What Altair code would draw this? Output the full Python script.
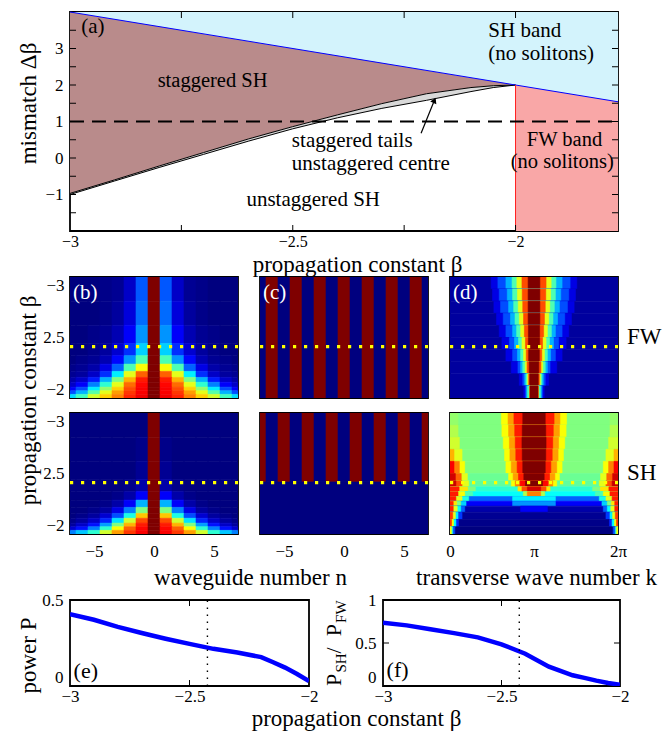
import math
import altair as alt
import pandas as pd

FONT = "Liberation Serif"
PI = math.pi
JET = ["#00007f", "#0000ff", "#00ffff", "#ffff00", "#ff0000", "#7f0000"]
JET_STOPS = [0, 0.125, 0.375, 0.625, 0.875, 1.0]

# ---------------- (a) existence diagram ----------------
a_beta = [-3.0, -2.9, -2.8, -2.7, -2.6, -2.5, -2.4, -2.3, -2.2, -2.1, -2.05, -2.0]
a_sh_edge = [4.0, 3.8, 3.6, 3.4, 3.2, 3.0, 2.8, 2.6, 2.4, 2.2, 2.1, 2.0]
a_tails_top = [-0.97, -0.6, -0.22, 0.15, 0.52, 0.86, 1.18, 1.49, 1.76, 1.93, 1.98, 2.0]
a_tails_bottom = [-1.0, -0.63, -0.26, 0.1, 0.46, 0.8, 1.1, 1.36, 1.58, 1.82, 1.93, 2.0]
band_beta = [-3.0, -2.0, -1.77]
band_edge = [4.0, 2.0, 1.54]
fw_beta = [-2.0, -1.77]
fw_edge = [2.0, 1.54]
arrow_beta = [-2.212, -2.182]
arrow_db = [0.68, 1.58]
a_tick_beta = [-2.75, -2.5, -2.25, -2.0]
a_tick_db = [-1.5, -1.0, -0.5, 0.0, 0.5, 1.0, 1.5, 2.0, 2.5, 3.0, 3.5]

# ---------------- (b) amplitude profiles |n| = 0..7 ----------------
prof_edges = [-3.0, -2.8, -2.6, -2.45, -2.35, -2.28, -2.22, -2.17, -2.13, -2.09, -2.06, -2.03, -2.0]
prof_fw = [
    [1, 0.21, 0.07, 0.02, 0.01, 0, 0, 0],
    [1, 0.23, 0.09, 0.03, 0.01, 0, 0, 0],
    [1, 0.27, 0.12, 0.05, 0.02, 0.01, 0, 0],
    [1, 0.33, 0.17, 0.08, 0.03, 0.01, 0, 0],
    [1, 0.45, 0.27, 0.13, 0.05, 0.02, 0.01, 0],
    [1, 0.62, 0.45, 0.22, 0.1, 0.04, 0.02, 0.01],
    [1, 0.78, 0.6, 0.36, 0.17, 0.07, 0.03, 0.02],
    [1, 0.85, 0.7, 0.5, 0.3, 0.15, 0.07, 0.04],
    [1, 0.87, 0.77, 0.6, 0.42, 0.25, 0.12, 0.07],
    [1, 0.88, 0.8, 0.67, 0.52, 0.36, 0.2, 0.12],
    [1, 0.88, 0.82, 0.72, 0.6, 0.46, 0.3, 0.2],
    [1, 0.89, 0.84, 0.75, 0.67, 0.58, 0.44, 0.34],
]
prof_sh = [
    [1, 0, 0, 0, 0, 0, 0, 0],
    [1, 0.01, 0, 0, 0, 0, 0, 0],
    [1, 0.02, 0, 0, 0, 0, 0, 0],
    [1, 0.04, 0.01, 0, 0, 0, 0, 0],
    [1, 0.12, 0.04, 0.01, 0, 0, 0, 0],
    [1, 0.3, 0.12, 0.04, 0.01, 0, 0, 0],
    [1, 0.5, 0.25, 0.1, 0.03, 0.01, 0, 0],
    [1, 0.68, 0.4, 0.2, 0.08, 0.03, 0.01, 0],
    [1, 0.8, 0.58, 0.35, 0.16, 0.07, 0.03, 0.01],
    [1, 0.85, 0.7, 0.5, 0.28, 0.14, 0.07, 0.03],
    [1, 0.87, 0.78, 0.62, 0.42, 0.25, 0.14, 0.08],
    [1, 0.88, 0.82, 0.72, 0.58, 0.42, 0.32, 0.25],
]

# ---------------- (c) staggering sign, n = -7..7 ----------------
sign_fw = [0, 1, 0, 1, 0, 1, 0, 1, 0, 1, 0, 1, 0, 1, 0]
sign_sh_upper = [1, 0, 1, 0, 1, 0, 1, 0, 1, 0, 1, 0, 1, 0, 1]
sign_sh_cut = -2.43

# ---------------- (d) spectra ----------------
spec_fw_edges = [-3.0, -2.9, -2.8, -2.7, -2.6, -2.5, -2.4, -2.3, -2.2, -2.1, -2.0]
spec_fw_levels = [0.1, 0.2, 0.3, 0.45, 0.6, 0.8, 1.0]
spec_fw_halfwidth = [
    [1.6, 1.35, 1.05, 0.82, 0.64, 0.45, 0.22],
    [1.55, 1.3, 1.0, 0.8, 0.62, 0.44, 0.22],
    [1.5, 1.25, 0.95, 0.76, 0.59, 0.42, 0.22],
    [1.4, 1.15, 0.88, 0.71, 0.55, 0.39, 0.22],
    [1.3, 1.05, 0.8, 0.65, 0.5, 0.36, 0.21],
    [1.2, 0.92, 0.73, 0.58, 0.45, 0.32, 0.21],
    [1.05, 0.8, 0.62, 0.5, 0.39, 0.29, 0.2],
    [0.85, 0.6, 0.5, 0.42, 0.33, 0.26, 0.18],
    [0.55, 0.42, 0.35, 0.3, 0.24, 0.2, 0.16],
    [0.38, 0.32, 0.28, 0.24, 0.17, 0.16, 0.15],
]
spec_sh_edges = [-3.0, -2.9, -2.8, -2.7, -2.6, -2.5, -2.44, -2.39, -2.35, -2.31,
                 -2.27, -2.23, -2.18, -2.12, -2.06, -2.0]
spec_sh_bg = [0.5, 0.5, 0.5, 0.5, 0.5, 0.48, 0.47, 0.42, 0.38, 0.22, 0.12, 0.04, 0.02, 0.01, 0.0]
spec_sh_center = [
    [(1.22, 0.62), (0.97, 0.72), (0.75, 0.85), (0.42, 1.0)],
    [(1.2, 0.62), (0.95, 0.72), (0.72, 0.85), (0.44, 1.0)],
    [(1.15, 0.62), (0.92, 0.72), (0.7, 0.85), (0.45, 1.0)],
    [(1.1, 0.62), (0.9, 0.72), (0.68, 0.85), (0.44, 1.0)],
    [(1.05, 0.62), (0.85, 0.72), (0.63, 0.85), (0.42, 1.0)],
    [(0.95, 0.62), (0.78, 0.72), (0.58, 0.85), (0.38, 1.0)],
    [(0.85, 0.62), (0.7, 0.75), (0.52, 0.87), (0.32, 1.0)],
    [(0.6, 0.65), (0.45, 0.8), (0.25, 0.92)],
    [(0.4, 0.55), (0.25, 0.75)],
    [(0.8, 0.36)],
    [(0.8, 0.27)],
    [(0.5, 0.12)],
    [],
    [],
    [],
]
spec_sh_edge = [
    [(0.3, 0.52)],
    [(0.3, 0.55)],
    [(0.35, 0.58)],
    [(0.45, 0.6), (0.15, 0.7)],
    [(0.55, 0.62), (0.35, 0.75), (0.15, 0.88)],
    [(0.65, 0.6), (0.42, 0.78), (0.2, 0.92)],
    [(0.7, 0.6), (0.45, 0.8), (0.22, 0.93)],
    [(0.95, 0.5), (0.66, 0.65), (0.34, 0.85)],
    [(0.85, 0.45), (0.55, 0.62), (0.3, 0.85)],
    [(0.7, 0.4), (0.45, 0.6), (0.22, 0.85)],
    [(0.6, 0.33), (0.4, 0.5), (0.25, 0.65), (0.12, 0.85)],
    [(0.55, 0.22), (0.4, 0.38), (0.27, 0.6), (0.12, 0.85)],
    [(0.45, 0.18), (0.3, 0.36), (0.2, 0.6), (0.1, 0.82)],
    [(0.32, 0.16), (0.22, 0.38), (0.13, 0.62), (0.06, 0.82)],
    [(0.18, 0.2), (0.1, 0.42), (0.05, 0.62)],
]
DOT_BETA = -2.425

# ---------------- (e), (f) ----------------
ef_beta = [-3.0, -2.9, -2.8, -2.7, -2.6, -2.5, -2.4, -2.3, -2.2, -2.15, -2.1, -2.05, -2.0]
power = [0.418, 0.385, 0.344, 0.308, 0.275, 0.245, 0.216, 0.195, 0.168, 0.138, 0.107, 0.07, 0.028]
ratio = [0.737, 0.705, 0.66, 0.615, 0.565, 0.485, 0.375, 0.225, 0.125, 0.095, 0.062, 0.035, 0.015]
ef_tick_beta = [-2.5]

YT_X = -42  # common position of the left axis titles
NOAX = alt.Axis(labels=False, title=None, ticks=False, domain=False, grid=False)
ZERO_BASE = {"condition": {"test": "datum.value == 0", "value": "bottom"}, "value": "middle"}


def jet_scale():
    return alt.Scale(domain=JET_STOPS, range=JET, interpolate="rgb", clamp=True)


def txt(df, size=20, color="black", align="left", baseline="middle", **kw):
    return alt.Chart(df).mark_text(font=FONT, fontSize=size, color=color, align=align,
                                   baseline=baseline, **kw)


def inner_ticks(values, enc, field, pos, horizontal):
    df = pd.DataFrame({field: values})
    ch = alt.Chart(df).mark_tick(color="black", thickness=1, size=6, opacity=1)
    if horizontal:
        return ch.encode(y=enc(field + ":Q"), x=alt.value(pos))
    return ch.encode(x=enc(field + ":Q"), y=alt.value(pos))


# ======================= panel (a) =======================
A_W, A_H = 548, 219
xa = alt.Scale(domain=[-3, -1.77], nice=False, zero=False)
ya = alt.Scale(domain=[-2, 4], nice=False, zero=False)
ax_ax = alt.Axis(values=[-3, -2.5, -2], format=".2~f", labelPadding=2, labelFontSize=16,
                 title="propagation constant β", titleX=287, titleY=33, titleBaseline="middle")
ax_ay = alt.Axis(values=[-1, 0, 1, 2, 3], format="~g", labelPadding=7,
                 title="mismatch Δβ", titleX=YT_X, titleY=91, titleBaseline="middle")

df_band = pd.DataFrame({"b": band_beta, "e": band_edge, "top": [4.0] * len(band_beta)})
df_fw = pd.DataFrame({"b": fw_beta, "e": fw_edge, "bot": [-2.0] * len(fw_beta)})
df_a = pd.DataFrame({"b": a_beta, "sh": a_sh_edge, "tt": a_tails_top, "tb": a_tails_bottom})


def X(f):
    return alt.X(f, scale=xa, axis=ax_ax)


def Y(f):
    return alt.Y(f, scale=ya, axis=ax_ay)


sh_band = alt.Chart(df_band).mark_area(color="#d3f3fc", orient="vertical").encode(
    x=X("b:Q"), y=Y("e:Q"), y2="top:Q")
fw_band = alt.Chart(df_fw).mark_area(color="#f9a7a7", orient="vertical").encode(
    x=X("b:Q"), y=Y("e:Q"), y2="bot:Q")
stag = alt.Chart(df_a).mark_area(color="#b98b8b", orient="vertical").encode(
    x=X("b:Q"), y=Y("sh:Q"), y2="tt:Q")
tails = alt.Chart(df_a).mark_area(color="#d9d9d9", orient="vertical").encode(
    x=X("b:Q"), y=Y("tt:Q"), y2="tb:Q")
line_t = alt.Chart(df_a).mark_line(color="black", strokeWidth=1).encode(x=X("b:Q"), y=Y("tt:Q"))
line_b = alt.Chart(df_a).mark_line(color="black", strokeWidth=1).encode(x=X("b:Q"), y=Y("tb:Q"))
blue = alt.Chart(df_band).mark_line(color="#0000ff", strokeWidth=1).encode(x=X("b:Q"), y=Y("e:Q"))
red = alt.Chart(pd.DataFrame({"b": [-2.0], "lo": [-2.0], "hi": [2.0]})).mark_rule(
    color="#ff2020", strokeWidth=1).encode(x=X("b:Q"), y=Y("lo:Q"), y2="hi:Q")
dash = alt.Chart(pd.DataFrame({"b": [-3.0], "b2": [-1.77], "m": [1.0]})).mark_rule(
    color="black", strokeWidth=2, strokeDash=[14, 8]).encode(x=X("b:Q"), x2="b2:Q", y=Y("m:Q"))
arrow = alt.Chart(pd.DataFrame({"b": arrow_beta, "d": arrow_db})).mark_line(
    color="black", strokeWidth=1.2).encode(x=X("b:Q"), y=Y("d:Q"))
head = alt.Chart(pd.DataFrame({"b": [arrow_beta[1]], "d": [arrow_db[1]]})).mark_point(
    shape="triangle-up", filled=True, color="black", size=45, angle=24, opacity=1).encode(
    x=X("b:Q"), y=Y("d:Q"))

a_left = pd.DataFrame({
    "b": [-2.975, -2.061, -2.061, -2.502, -2.502, -2.604],
    "d": [3.59, 3.47, 2.86, 0.455, -0.155, -1.15],
    "t": ["(a)", "SH band", "(no solitons)", "staggered tails", "unstaggered centre", "unstaggered SH"],
})
a_center = pd.DataFrame({
    "b": [-2.68, -1.89, -1.895],
    "d": [2.12, 0.48, -0.1],
    "t": ["staggered SH", "FW band", "(no solitons)"],
})
t_left = txt(a_left, size=21).encode(x=X("b:Q"), y=Y("d:Q"), text="t:N")
t_center = txt(a_center, size=20.5, align="center").encode(x=X("b:Q"), y=Y("d:Q"), text="t:N")

a_ticks = [
    inner_ticks(a_tick_beta, X, "b", A_H - 3, False),
    inner_ticks(a_tick_beta, X, "b", 3, False),
    inner_ticks(a_tick_db, Y, "d", 3, True),
    inner_ticks(a_tick_db, Y, "d", A_W - 3, True),
]

panel_a = alt.layer(sh_band, fw_band, stag, tails, line_t, line_b, blue, red, dash,
                    arrow, head, t_left, t_center, *a_ticks).properties(width=A_W, height=A_H)


# ======================= heat panels =======================
def profile_cells(edges, rows):
    recs = []
    for i, row in enumerate(rows):
        for n in range(-7, 8):
            recs.append(dict(x0=n - 0.5, x1=n + 0.5, y0=edges[i], y1=edges[i + 1], v=row[abs(n)]))
    return pd.DataFrame(recs)


def sign_cells(edges, rows):
    recs = []
    for i, row in enumerate(rows):
        for j, n in enumerate(range(-7, 8)):
            recs.append(dict(x0=n - 0.5, x1=n + 0.5, y0=edges[i], y1=edges[i + 1], v=row[j]))
    return pd.DataFrame(recs)


def spectrum_cells(edges, bg, center, edge):
    recs = []
    for i in range(len(edges) - 1):
        y0, y1 = edges[i], edges[i + 1]
        recs.append(dict(x0=0.0, x1=2 * PI, y0=y0, y1=y1, v=bg[i]))
        for hw, v in center[i]:
            recs.append(dict(x0=PI - hw, x1=PI + hw, y0=y0, y1=y1, v=v))
        for w, v in edge[i]:
            recs.append(dict(x0=0.0, x1=w, y0=y0, y1=y1, v=v))
            recs.append(dict(x0=2 * PI - w, x1=2 * PI, y0=y0, y1=y1, v=v))
    return pd.DataFrame(recs)


def heat(df, xdom, xaxis=NOAX, yaxis=NOAX, tag=None, side=None):
    xs = alt.Scale(domain=xdom, nice=False, zero=False)
    ys = alt.Scale(domain=[-3, -2], nice=False, zero=False, reverse=True)

    def HX(f):
        return alt.X(f, scale=xs, axis=xaxis)

    def HY(f):
        return alt.Y(f, scale=ys, axis=yaxis)

    col = alt.Color("v:Q", scale=jet_scale(), legend=None)
    layers = [
        alt.Chart(df).mark_rect(clip=True, strokeWidth=0.6).encode(
            x=HX("x0:Q"), x2="x1:Q", y=HY("y0:Q"), y2="y1:Q",
            color=col, stroke=alt.Stroke("v:Q", scale=jet_scale(), legend=None)),
        alt.Chart(pd.DataFrame({"x0": [xdom[0]], "x1": [xdom[1]], "y0": [DOT_BETA]})).mark_rule(
            color="#ffff00", strokeWidth=3.2, strokeDash=[3.2, 7.8]).encode(
            x=HX("x0:Q"), x2="x1:Q", y=HY("y0:Q")),
    ]
    if tag:
        off = (xdom[1] - xdom[0]) * 0.018
        layers.append(txt(pd.DataFrame({"x0": [xdom[0] + off], "y0": [-2.868], "t": [tag]}),
                          size=21, color="white").encode(x=HX("x0:Q"), y=HY("y0:Q"), text="t:N"))
    if side:
        layers.append(txt(pd.DataFrame({"x0": [xdom[1]], "y0": [-2.504], "t": [side]}),
                          size=23, dx=9).encode(x=HX("x0:Q"), y=HY("y0:Q"), text="t:N"))
    return alt.layer(*layers).properties(width=168, height=121)


beta_label = "datum.value == -2.5 ? '2.5' : datum.label"
yax_b1 = alt.Axis(values=[-3, -2.5, -2], format="~g", labelExpr=beta_label, labelPadding=6,
                  labelFlush=True,
                  title="propagation constant β", titleX=YT_X, titleY=123, titleBaseline="middle")
yax_b2 = alt.Axis(values=[-3, -2.5, -2], format="~g", labelExpr=beta_label, labelPadding=6,
                  labelFlush=True, title=None)
xax_b2 = alt.Axis(values=[-5, 0, 5], format="~g", labelPadding=9, title="waveguide number n",
                  titleX=180, titleY=43, titleBaseline="middle")
xax_c2 = alt.Axis(values=[-5, 0, 5], format="~g", labelPadding=9, title=None)
xax_d2 = alt.Axis(values=[0, PI, 2 * PI], labelPadding=9,
                  labelExpr="datum.value < 1 ? '0' : (datum.value < 4 ? 'π' : '2π')",
                  title="transverse wave number k", titleX=86, titleY=43, titleBaseline="middle")

ND = [-7, 7]
KD = [0, 2 * PI]
b1 = heat(profile_cells(prof_edges, prof_fw), ND, NOAX, yax_b1, tag="(b)")
b2 = heat(profile_cells(prof_edges, prof_sh), ND, xax_b2, yax_b2)
c1 = heat(sign_cells([-3.0, -2.0], [sign_fw]), ND, tag="(c)")
c2 = heat(sign_cells([-3.0, sign_sh_cut, -2.0], [sign_sh_upper, [0] * 15]), ND, xax_c2)
d1 = heat(spectrum_cells(spec_fw_edges, [0.03] * 10,
                         [list(zip(r, spec_fw_levels)) for r in spec_fw_halfwidth],
                         [[] for _ in range(10)]), KD, tag="(d)", side="FW")
d2 = heat(spectrum_cells(spec_sh_edges, spec_sh_bg, spec_sh_center, spec_sh_edge), KD, xax_d2,
          side="SH")

heat_block = alt.concat(b1, c1, d1, b2, c2, d2, columns=3,
                        spacing={"row": 15, "column": 22}, bounds="flush")

# ======================= (e), (f) =======================
xef = alt.Scale(domain=[-3, -2], nice=False, zero=False)
df_ef = pd.DataFrame({"b": ef_beta, "P": power, "R": ratio})
ax_ex = alt.Axis(values=[-3, -2.5, -2], format=".2~f", labelPadding=2,
                 title="propagation constant β", titleX=286, titleY=32, titleBaseline="middle")
ax_fx = alt.Axis(values=[-3, -2.5, -2], format=".2~f", labelPadding=2, title=None)
ax_ey = alt.Axis(values=[0, 0.5], format="~g", labelPadding=7, labelBaseline=ZERO_BASE,
                 title="power P", titleX=YT_X, titleY=55, titleBaseline="middle")
ax_fy = alt.Axis(values=[0, 0.5, 1], format="~g", labelPadding=7, labelBaseline=ZERO_BASE,
                 title=None)


def small_panel(field, ydom, xaxis, yaxis, tag, tag_y, width, yticks):
    ys = alt.Scale(domain=ydom, nice=False, zero=False)

    def SX(f):
        return alt.X(f, scale=xef, axis=xaxis)

    def SY(f):
        return alt.Y(f, scale=ys, axis=yaxis)

    line = alt.Chart(df_ef).mark_line(color="#0000ff", strokeWidth=4.5, clip=True).encode(
        x=SX("b:Q"), y=SY(field + ":Q"))
    dot = alt.Chart(pd.DataFrame({"b": [DOT_BETA], "lo": [ydom[0]], "hi": [ydom[1]]})).mark_rule(
        color="black", strokeWidth=1.4, strokeDash=[1.5, 5.5]).encode(
        x=SX("b:Q"), y=SY("lo:Q"), y2="hi:Q")
    lab = txt(pd.DataFrame({"b": [-2.985], "v": [tag_y], "t": [tag]}), size=22).encode(
        x=SX("b:Q"), y=SY("v:Q"), text="t:N")
    layers = [line, dot, lab,
              inner_ticks(ef_tick_beta, SX, "b", 86 - 3, False),
              inner_ticks(ef_tick_beta, SX, "b", 3, False)]
    if yticks:
        layers += [inner_ticks(yticks, SY, field, 3, True),
                   inner_ticks(yticks, SY, field, width - 3, True)]
    return layers


e_layers = small_panel("P", [0, 0.5], ax_ex, ax_ey, "(e)", 0.085, 239, None)
f_layers = small_panel("R", [0, 1], ax_fx, ax_fy, "(f)", 0.19, 237, [0.5])

# composite y title  P_SH / P_FW
one = pd.DataFrame({"a": [0]})
pieces = [("P", -42, 86, 22), ("SH", -37, 72.6, 15), ("\u00a0/\u00a0", -42, 53.4, 22),
          ("P", -42, 36.3, 22), ("FW", -37, 22.9, 15)]
for s, px, py, fs in pieces:
    f_layers.append(alt.Chart(one).mark_text(
        text=s, font=FONT, fontSize=fs, angle=270, align="left", baseline="alphabetic",
        color="black").encode(x=alt.value(px), y=alt.value(py)))

panel_e = alt.layer(*e_layers).properties(width=239, height=86)
panel_f = alt.layer(*f_layers).properties(width=237, height=86)
ef_row = alt.hconcat(panel_e, panel_f, spacing=74, bounds="flush")

lower = alt.vconcat(heat_block, ef_row, spacing=0)
chart = alt.vconcat(panel_a, lower, spacing=-7).properties(
    padding={"left": 16, "top": 9, "right": 0, "bottom": 0}
).configure(font=FONT, background="white").configure_axis(
    labelFont=FONT, titleFont=FONT, labelFontSize=17, titleFontSize=23,
    labelColor="black", titleColor="black", titleFontWeight="normal",
    domain=False, ticks=False, grid=False, labelFlush=False, labelOverlap=False,
).configure_view(stroke="black", strokeWidth=1.8)

chart.save("out.html", embed_options={"renderer": "svg", "actions": False})
